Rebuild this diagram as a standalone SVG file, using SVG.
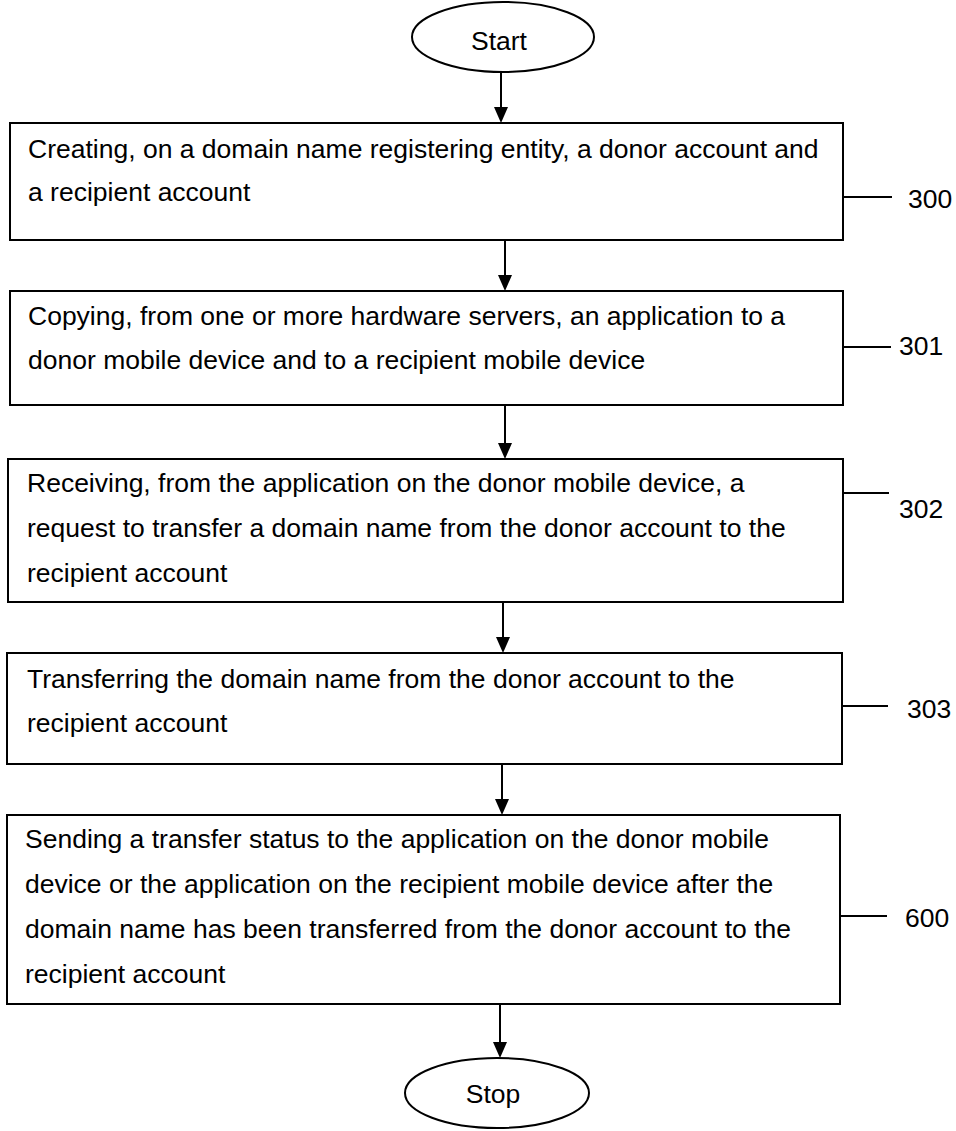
<svg xmlns="http://www.w3.org/2000/svg" width="956" height="1131" viewBox="0 0 956 1131">
<style>
.box{fill:#fff;stroke:#000;stroke-width:2}
.t{font-family:"Liberation Sans",Arial,sans-serif;font-size:26.5px;fill:#000}
.lbl{font-family:"Liberation Sans",Arial,sans-serif;font-size:26.5px;fill:#000}
.c{stroke:#000;stroke-width:2;fill:none}
.ah{fill:#000}
</style>
<rect width="956" height="1131" fill="#fff"/>
<g id="connectors">
<line class="c" x1="501" y1="72" x2="501" y2="110"/>
<line class="c" x1="505" y1="241" x2="505" y2="278"/>
<line class="c" x1="505" y1="405" x2="505" y2="446"/>
<line class="c" x1="503" y1="602" x2="503" y2="640"/>
<line class="c" x1="502" y1="764" x2="502" y2="802"/>
<line class="c" x1="500" y1="1004" x2="500" y2="1045"/>
<path class="ah" d="M494,107 L508,107 L501,123 Z M498,275 L512,275 L505,291 Z M498,443 L512,443 L505,459 Z M496,637 L510,637 L503,653 Z M495,799 L509,799 L502,815 Z M493,1042 L507,1042 L500,1058 Z"/>
<line class="c" x1="843" y1="197" x2="892" y2="197"/>
<line class="c" x1="843" y1="347" x2="891" y2="347"/>
<line class="c" x1="843" y1="493" x2="889" y2="493"/>
<line class="c" x1="842" y1="706" x2="888" y2="706"/>
<line class="c" x1="840" y1="916" x2="887" y2="916"/>
</g>
<g id="start">
<ellipse class="box" cx="503" cy="37" rx="91" ry="35"/>
<text class="t" x="499" y="50" text-anchor="middle">Start</text>
</g>
<g id="n300">
<rect class="box" x="10" y="123" width="833" height="117"/>
<text class="t" x="28" y="158">Creating, on a domain name registering entity, a donor account and</text>
<text class="t" x="28" y="201">a recipient account</text>
<text class="lbl" x="908" y="208">300</text>
</g>
<g id="n301">
<rect class="box" x="10" y="291" width="833" height="114"/>
<text class="t" x="28" y="325">Copying, from one or more hardware servers, an application to a</text>
<text class="t" x="28" y="369">donor mobile device and to a recipient mobile device</text>
<text class="lbl" x="899" y="355">301</text>
</g>
<g id="n302">
<rect class="box" x="8" y="459" width="835" height="143"/>
<text class="t" x="27" y="492">Receiving, from the application on the donor mobile device, a</text>
<text class="t" x="27" y="537">request to transfer a domain name from the donor account to the</text>
<text class="t" x="27" y="582">recipient account</text>
<text class="lbl" x="899" y="518">302</text>
</g>
<g id="n303">
<rect class="box" x="7" y="653" width="835" height="111"/>
<text class="t" x="27" y="688">Transferring the domain name from the donor account to the</text>
<text class="t" x="27" y="732">recipient account</text>
<text class="lbl" x="907" y="718">303</text>
</g>
<g id="n600">
<rect class="box" x="7" y="815" width="833" height="189"/>
<text class="t" x="25" y="848">Sending a transfer status to the application on the donor mobile</text>
<text class="t" x="25" y="893">device or the application on the recipient mobile device after the</text>
<text class="t" x="25" y="938">domain name has been transferred from the donor account to the</text>
<text class="t" x="25" y="983">recipient account</text>
<text class="lbl" x="905" y="927">600</text>
</g>
<g id="stop">
<ellipse class="box" cx="497" cy="1093" rx="92" ry="35"/>
<text class="t" x="493" y="1103" text-anchor="middle">Stop</text>
</g>
</svg>
